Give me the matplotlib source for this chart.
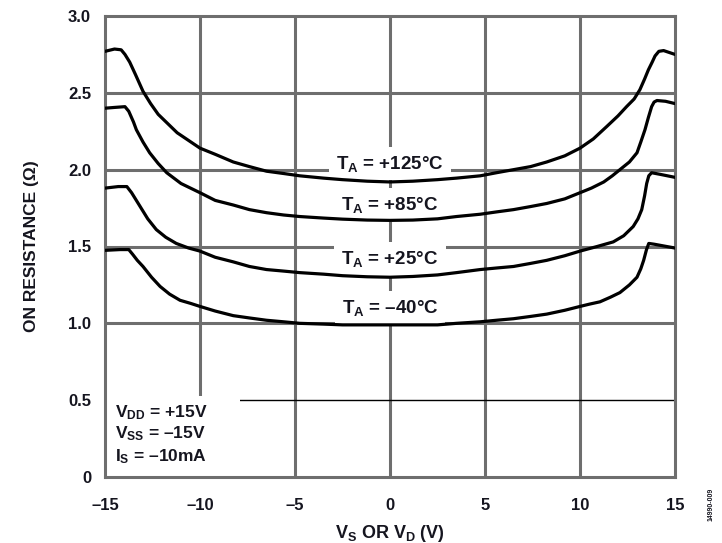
import matplotlib
matplotlib.use("Agg")
import matplotlib.pyplot as plt
from matplotlib.patches import Rectangle

plt.rcParams['font.family'] = ['Liberation Sans', 'DejaVu Sans']
plt.rcParams['mathtext.fontset'] = 'custom'
plt.rcParams['mathtext.rm'] = 'Liberation Sans:bold'
plt.rcParams['mathtext.bf'] = 'Liberation Sans:bold'
plt.rcParams['mathtext.it'] = 'Liberation Sans:bold'

# ---- data ----
v_125 = [-15, -14.5, -14.15, -13.95, -13.7, -13.4, -13.0, -12.6, -12.2, -11.7, -11.2, -10.6,
         -10, -9.2, -8.25, -7.4, -6.5, -5.6, -4.75, -3.5, -2.5, -1.2, 0,
         1.2, 2.5, 3.5, 4.75, 5.6, 6.5, 7.4, 8.25, 9.2, 10, 10.7, 11.4, 12.0, 12.45,
         12.85, 13.15, 13.4, 13.6, 13.8, 13.95, 14.15, 14.4, 15]
r_125 = [2.77, 2.785, 2.78, 2.75, 2.70, 2.62, 2.51, 2.43, 2.36, 2.30, 2.24, 2.19,
         2.14, 2.10, 2.05, 2.02, 1.99, 1.975, 1.96, 1.945, 1.935, 1.925, 1.92,
         1.925, 1.935, 1.945, 1.96, 1.98, 2.00, 2.02, 2.05, 2.09, 2.14, 2.20, 2.28, 2.35, 2.41,
         2.46, 2.52, 2.59, 2.65, 2.70, 2.74, 2.77, 2.775, 2.75]

v_85 = [-15, -14.5, -13.95, -13.75, -13.5, -13.35, -13.0, -12.65, -12.2, -11.75, -11.0,
        -10, -9.2, -8.25, -7.4, -6.5, -5.6, -4.75, -3.5, -2.5, -1.2, 0,
        1.2, 2.5, 3.5, 4.75, 5.6, 6.5, 7.4, 8.25, 9.2, 10, 10.6, 11.25, 11.7, 12.1,
        12.6, 13.0, 13.2, 13.42, 13.6, 13.77, 13.9, 14.05, 14.5, 15]
r_85 = [2.40, 2.405, 2.41, 2.38, 2.31, 2.26, 2.18, 2.11, 2.04, 1.98, 1.91,
        1.85, 1.80, 1.77, 1.74, 1.72, 1.705, 1.695, 1.685, 1.678, 1.672, 1.67,
        1.672, 1.68, 1.695, 1.71, 1.725, 1.74, 1.76, 1.78, 1.81, 1.85, 1.88, 1.92, 1.96, 2.00,
        2.05, 2.11, 2.18, 2.26, 2.34, 2.41, 2.44, 2.45, 2.445, 2.43]

v_25 = [-15, -14.3, -13.85, -13.6, -13.35, -13.15, -12.75, -12.3, -11.8, -11.25, -10.6,
        -10, -9.2, -8.25, -7.4, -6.5, -5.6, -4.75, -3.5, -2.5, -1.2, 0,
        1.2, 2.5, 3.5, 4.75, 5.6, 6.5, 7.4, 8.25, 9.2, 10, 10.9, 11.75, 12.3, 12.8,
        13.05, 13.25, 13.4, 13.51, 13.62, 13.77, 14.2, 15]
r_25 = [1.88, 1.89, 1.89, 1.85, 1.80, 1.76, 1.68, 1.61, 1.56, 1.52, 1.49,
        1.47, 1.43, 1.40, 1.37, 1.35, 1.34, 1.33, 1.32, 1.31, 1.303, 1.30,
        1.305, 1.315, 1.33, 1.35, 1.36, 1.37, 1.39, 1.41, 1.44, 1.47, 1.50, 1.53, 1.57, 1.63,
        1.68, 1.74, 1.83, 1.91, 1.96, 1.98, 1.97, 1.95]

v_m40 = [-15, -14.2, -13.75, -13.55, -13.3, -13.0, -12.55, -12.1, -11.6, -11.05, -10.5,
         -10, -9.2, -8.25, -7.4, -6.5, -5.6, -4.75, -3.5, -2.5, 0,
         2.5, 3.5, 4.75, 5.6, 6.5, 7.4, 8.25, 9.2, 10, 10.5, 11.05, 11.6, 12.1,
         12.6, 13.0, 13.2, 13.35, 13.5, 13.62, 13.9, 15]
r_m40 = [1.475, 1.48, 1.48, 1.45, 1.41, 1.37, 1.30, 1.24, 1.19, 1.15, 1.13,
         1.11, 1.08, 1.05, 1.035, 1.02, 1.01, 1.00, 0.995, 0.99, 0.99,
         0.99, 1.00, 1.01, 1.02, 1.03, 1.045, 1.06, 1.085, 1.11, 1.125, 1.14, 1.17, 1.20,
         1.25, 1.30, 1.355, 1.41, 1.48, 1.52, 1.515, 1.49]

curves = [(v_125, r_125), (v_85, r_85), (v_25, r_25), (v_m40, r_m40)]
curve_labels = [r"$\mathbf{T_A}$ = +125°C", r"$\mathbf{T_A}$ = +85°C",
                r"$\mathbf{T_A}$ = +25°C", r"$\mathbf{T_A}$ = –40°C"]
label_x = [0, 0, 0, 0]
label_y = [2.04, 1.77, 1.42, 1.10]

x_ticks = [-15, -10, -5, 0, 5, 10, 15]
x_ticklabels = ["–15", "–10", "–5", "0", "5", "10", "15"]
y_ticks = [0, 0.5, 1.0, 1.5, 2.0, 2.5, 3.0]
y_ticklabels = ["0", "0.5", "1.0", "1.5", "2.0", "2.5", "3.0"]

spec_lines = [r"V$_\mathbf{DD}$ = +15V", r"V$_\mathbf{SS}$ = –15V", r"I$_\mathbf{S}$ = –10mA"]
spec_y = [0.42, 0.285, 0.13]

# ---- figure ----
fig = plt.figure(figsize=(7.22, 5.43), dpi=100)
ax = fig.add_axes([105/722, 66/543, 570/722, 461/543])
ax.set_xlim(-15, 15)
ax.set_ylim(0, 3.0)

grid_c = '#6e6e6e'
for xv in x_ticks[1:-1]:
    ax.axvline(xv, color=grid_c, lw=2.2, zorder=1)
for yv in y_ticks[1:-1]:
    if yv == 0.5:
        ax.axhline(yv, color='black', lw=1.0, zorder=1)
    else:
        ax.axhline(yv, color=grid_c, lw=2.2, zorder=1)

# white area behind the spec text
ax.add_patch(Rectangle((-15, 0), 7.1, 0.53, facecolor='white', edgecolor='none', zorder=1.5))

for (vx, ry) in curves:
    ax.plot(vx, ry, color='black', lw=2.3, zorder=3, solid_joinstyle='round',
            solid_capstyle='round')

txt_c = '#15151f'
for lab, lx, ly in zip(curve_labels, label_x, label_y):
    ax.text(lx, ly, lab, ha='center', va='center', fontsize=13.5, fontweight='bold',
            color=txt_c, zorder=2,
            bbox=dict(facecolor='white', edgecolor='none', pad=5))

for line, sy in zip(spec_lines, spec_y):
    ax.text(-14.45, sy, line, ha='left', va='center', fontsize=12.5,
            fontweight='bold', color=txt_c, zorder=2)

for s in ax.spines.values():
    s.set_color(grid_c)
    s.set_linewidth(2.2)

ax.set_xticks(x_ticks)
ax.set_xticklabels(x_ticklabels)
ax.set_yticks(y_ticks)
ax.set_yticklabels(y_ticklabels)
ax.tick_params(length=0, labelsize=12, labelcolor=txt_c)
ax.tick_params(axis='x', pad=15)
ax.tick_params(axis='y', pad=10)
for t in ax.get_xticklabels() + ax.get_yticklabels():
    t.set_fontweight('bold')

ax.set_xlabel(r"V$_\mathbf{S}$ OR V$_\mathbf{D}$ (V)", fontsize=13, fontweight='bold', color=txt_c)
ax.xaxis.set_label_coords(0.5, -0.1)
ax.set_ylabel("ON RESISTANCE (Ω)", fontsize=12.5, fontweight='bold', color=txt_c)
ax.yaxis.set_label_coords(-0.115, 0.5)

fig.text(0.985, 0.04, "14990-009", rotation=90, fontsize=5, fontweight='bold',
         color=txt_c, ha='center', va='bottom')

fig.savefig("out.png", dpi=100)
